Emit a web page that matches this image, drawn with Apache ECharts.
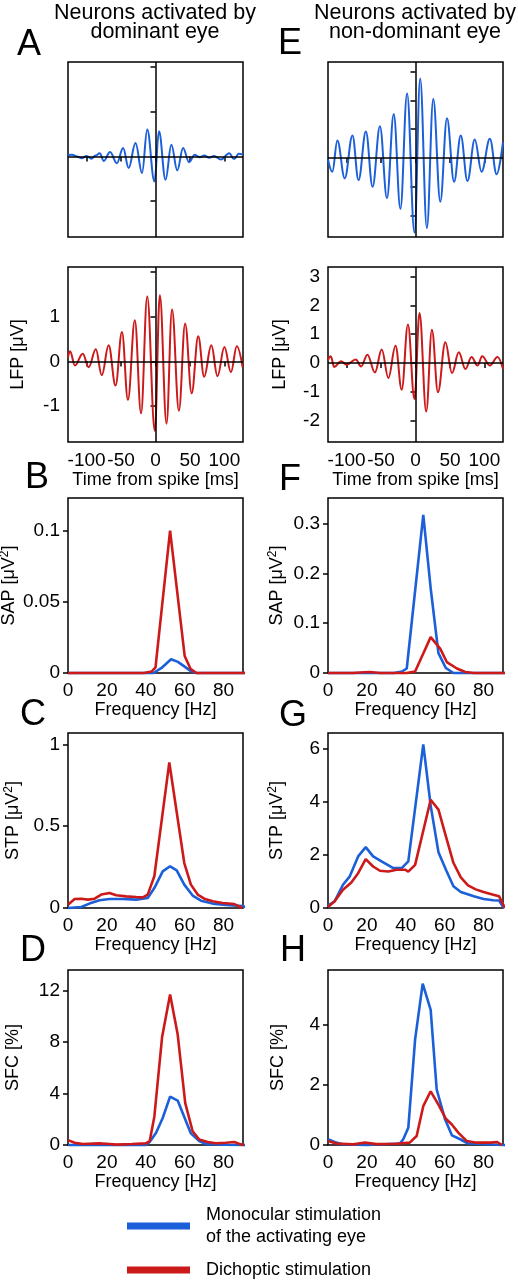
<!DOCTYPE html>
<html><head><meta charset="utf-8">
<script src="https://cdn.jsdelivr.net/npm/echarts@6/dist/echarts.min.js"></script>
<style>html,body{margin:0;padding:0;background:#fff}#c{width:518px;height:1280px}</style>
</head><body><div id="c"></div>
<script>
// ---- tick values ----
const timeTicks = [-100, -50, 0, 50, 100];
const freqTicks = [0, 20, 40, 60, 80];
const lfpDomTicks = [-1, 0, 1, 2];
const lfpDomLabels = [-1, 0, 1];
const lfpNonTicks = [-2, -1, 0, 1, 2, 3];
const sapDomTicks = [0, 0.05, 0.1];
const sapNonTicks = [0, 0.1, 0.2, 0.3];
const stpDomTicks = [0, 0.5, 1];
const stpNonTicks = [0, 2, 4, 6];
const sfcDomTicks = [0, 4, 8, 12];
const sfcNonTicks = [0, 2, 4];

// ---- spike-triggered LFP averages [time ms, µV] (extrema) ----
const domMonoSTA = [[-127,0.03],[-121,0.04],[-114,0.0],[-107,-0.04],[-100,0.01],[-93,-0.05],[-87,0.02],[-81,0.07],[-75,-0.1],[-66,0.1],[-56,-0.15],[-47,0.19],[-39,-0.26],[-29,0.3],[-19.5,-0.37],[-12,0.6],[-1.5,-0.56],[5,0.56],[14.6,-0.52],[23,0.26],[31.6,-0.31],[40,0.19],[48.7,-0.13],[57,0.04],[64,-0.02],[71,0.02],[78,-0.03],[85,0.01],[95,-0.07],[107,0.07],[114,-0.06],[121,0.06],[127,0.04]];
const domDichSTA = [[-127,0.1],[-124,0.23],[-117,-0.09],[-105.6,0.17],[-97,-0.13],[-86.6,0.27],[-78,-0.31],[-68,0.36],[-58,-0.54],[-48.7,0.66],[-40,-0.86],[-30,0.92],[-21,-1.16],[-12,1.45],[-1,-1.55],[6.3,1.48],[16,-1.39],[24,1.16],[34,-1.1],[43,0.85],[52.5,-0.71],[62,0.56],[70.6,-0.34],[81,0.36],[90,-0.33],[100,0.32],[109.5,-0.24],[118,0.34],[126.5,-0.13]];
const nonMonoSTA = [[-127,-0.05],[-120.7,-0.48],[-113.4,0.61],[-102.7,-0.71],[-91.5,0.78],[-82.7,-0.77],[-72,0.92],[-62.3,-1.0],[-51.6,1.1],[-41.4,-1.4],[-31.6,1.53],[-21.9,-1.77],[-12.2,2.24],[-1.5,-2.6],[6.8,2.77],[16.5,-2.44],[25.8,2.05],[36,-1.52],[45.7,1.38],[56,-0.83],[65.7,0.78],[75.4,-0.8],[86,0.64],[95.9,-0.48],[108,0.67],[117.8,-0.57],[127,0.55]];
const nonDichSTA = [[-127,0.1],[-123,0.23],[-118,-0.14],[-108,0.06],[-100,-0.06],[-86.6,0.12],[-79,-0.12],[-69.8,0.29],[-58.9,-0.33],[-49,0.47],[-39.4,-0.52],[-29,0.6],[-20,-0.93],[-11,1.34],[-1.5,-1.26],[5.8,1.74],[15.6,-1.69],[23.8,1.16],[32.6,-1.02],[43.3,0.72],[53,-0.35],[62.8,0.37],[72.5,-0.21],[81.3,0.21],[90,-0.09],[96.8,0.23],[108,-0.09],[119,0.21],[127,-0.21]];

// ---- spectra [frequency Hz, value] ----
const domMonoSAP = [[0,0],[44,0],[48.5,0.004],[53,0.0097],[56.5,0.0078],[60,0.0045],[63,0.0015],[66,0],[93,0]];
const domDichSAP = [[0,0],[39,0],[43,0.001],[45,0.004],[52.5,0.1],[60,0.012],[63,0.003],[66,0],[93,0]];
const nonMonoSAP = [[0,0],[34,0],[38,0.003],[40.5,0.009],[49,0.317],[52.8,0.17],[56.8,0.04],[60.6,0.01],[64.5,0],[93,0]];
const nonDichSAP = [[0,0],[13,0],[16.4,0.001],[21.5,0.002],[26.7,0],[40.4,0],[44.8,0.003],[49,0.039],[52.8,0.072],[57.7,0.049],[61.1,0.022],[66.3,0.009],[70.6,0.002],[75,0],[93,0]];

const domMonoSTP = [[0,0],[6.8,0.006],[11,0.027],[16.2,0.047],[21.4,0.055],[28.2,0.055],[35,0.051],[41,0.061],[44.4,0.122],[48.7,0.224],[52.5,0.255],[55.9,0.23],[59.8,0.143],[64.1,0.076],[68.4,0.045],[74.4,0.027],[81.2,0.018],[87.2,0.014],[90,0.012],[92.5,0]];
const domDichSTP = [[0,0.02],[3.4,0.055],[6.8,0.057],[10.3,0.051],[13.7,0.057],[17.1,0.082],[21.4,0.092],[24.8,0.078],[29.9,0.071],[35,0.067],[38.5,0.065],[41,0.082],[44.4,0.194],[52.1,0.89],[59.8,0.275],[63.2,0.143],[66.7,0.082],[70.1,0.057],[74.4,0.041],[79.5,0.031],[85.5,0.024],[88,0.01],[89.7,0]];
const nonMonoSTP = [[0,0.09],[3.4,0.25],[7.7,0.875],[11.2,1.19],[15.5,1.94],[19.4,2.29],[23.2,1.94],[28.4,1.72],[33.6,1.5],[37.9,1.5],[41.3,1.75],[49,6.15],[52.8,3.85],[56.8,2.1],[60.6,1.45],[64.5,0.82],[68.3,0.6],[75,0.44],[80,0.34],[85,0.29],[88,0.28],[90.4,0]];
const nonDichSTP = [[0,0.04],[3.4,0.25],[7.7,0.69],[12,0.96],[15.5,1.31],[19.4,1.84],[23.2,1.56],[26.7,1.4],[31,1.37],[35.3,1.44],[39.6,1.44],[41.3,1.37],[44.8,1.62],[52.8,4.07],[56.8,3.7],[60.6,2.7],[64.5,1.7],[68.3,1.15],[72,0.85],[76,0.7],[80,0.6],[85,0.5],[88,0.44],[91,0]];

const domMonoSFC = [[0,0],[40,0],[42,0.23],[45.3,0.95],[48.7,2.1],[52.5,3.76],[56.4,3.45],[59.8,2.17],[63.2,0.9],[67.5,0.3],[71,0.08],[80,0.02],[91.5,0],[95,-0.05]];
const domDichSFC = [[0,0.38],[3.4,0.18],[7.7,0.08],[16,0.13],[19.7,0.1],[25,0.03],[33,0.08],[40,0.13],[42,0.3],[44.4,2.2],[48.4,8.4],[52.5,11.7],[56.4,8.6],[60.3,3.25],[64.1,1.07],[67.5,0.43],[71.8,0.23],[76,0.13],[81.2,0.18],[85.5,0.23],[88.9,0.05],[90.5,0]];
const nonMonoSFC = [[0,0.19],[4.3,0.08],[7.7,0.02],[20,0],[37,0.05],[38.7,0.19],[41.3,0.57],[44.8,3.5],[48.7,5.35],[52.8,4.48],[55.9,1.84],[60.2,0.85],[63.7,0.32],[68,0.19],[72,0.05],[90.4,0],[94,-0.03]];
const nonDichSFC = [[0,0.13],[4.3,0.05],[13,0.02],[19,0.08],[25,0.03],[35,0.04],[42,0.08],[45.6,0.3],[49,1.29],[52.8,1.78],[56.8,1.34],[60.6,0.87],[63.7,0.68],[67,0.41],[71.4,0.13],[75.7,0.08],[83.5,0.08],[87,0.1],[89.5,0]];

// ---- chart ----
const FONT = '"Liberation Sans", Arial, Helvetica, sans-serif';
const BLUE = '#1b5fd9', RED = '#cc1a1a';
const MONO = 'Monocular stimulation of the activating eye', DICH = 'Dichoptic stimulation';
const grids = [], xAxes = [], yAxes = [], series = [];

function addPanel(p) {
  const gi = grids.length;
  const isTime = p.kind === 'time';
  grids.push({ left: p.left, top: p.top, width: 175, height: 175, show: true,
    borderColor: '#000', borderWidth: 1.5, backgroundColor: 'transparent', outerBoundsMode: 'none', containLabel: false });
  const xt = isTime ? timeTicks : freqTicks;
  xAxes.push({ gridIndex: gi, type: 'value', min: isTime ? -127 : 0, max: isTime ? 127 : 90,
    axisLine: { show: false }, splitLine: { show: false },
    axisTick: { show: isTime, inside: false, length: 5, lineStyle: { color: '#000', width: 1.5 }, customValues: xt },
    axisLabel: { show: !!p.xLabel, customValues: xt, margin: isTime ? 9 : 8, color: '#000', fontSize: 19, fontFamily: FONT },
    name: p.xLabel ? (isTime ? 'Time from spike [ms]' : 'Frequency [Hz]') : '',
    nameLocation: 'middle', nameGap: isTime ? 28 : 27,
    nameTextStyle: { color: '#000', fontSize: 18, fontFamily: FONT } });
  yAxes.push({ gridIndex: gi, type: 'value', min: p.yMin, max: p.yMax,
    axisLine: { show: false }, splitLine: { show: false },
    axisTick: { show: true, inside: false, length: 5, lineStyle: { color: '#000', width: 1.5 }, customValues: p.yTicks },
    axisLabel: { show: !!p.yLabels, customValues: p.yLabels || p.yTicks, margin: 8, color: '#000', fontSize: 19, fontFamily: FONT },
    name: p.yName || '', nameLocation: 'middle', nameRotate: 90, nameGap: p.nameGap || 40,
    nameTextStyle: { color: '#000', fontSize: 18, fontFamily: FONT, lineHeight: 20,
      rich: { s: { fontSize: 12, fontFamily: FONT, color: '#000', verticalAlign: 'top', lineHeight: 20 } } } });
  p.series.forEach((s, k) => {
    const o = { type: 'line', name: s.name, xAxisIndex: gi, yAxisIndex: gi, data: s.data,
      showSymbol: false, symbol: 'none', smooth: isTime ? 0.38 : false, smoothMonotone: isTime ? 'x' : undefined, clip: isTime,
      color: s.color, itemStyle: { color: s.color },
      lineStyle: { color: s.color, width: isTime ? 2 : 2.6 }, silent: true, z: 3 + k };
    if (isTime && k === 0) {
      o.markLine = { silent: true, symbol: 'none', animation: false, label: { show: false },
        lineStyle: { color: '#000', width: 1.5, type: 'solid' }, data: [{ xAxis: 0 }, { yAxis: 0 }] };
    }
    series.push(o);
  });
}

const L = 68, R = 328;
addPanel({ kind: 'time', left: L, top: 62, yMin: -1.8, yMax: 2.11, yTicks: lfpDomTicks, series: [{ name: MONO, data: domMonoSTA, color: BLUE }] });
addPanel({ kind: 'time', left: L, top: 267, xLabel: true, yMin: -1.8, yMax: 2.11, yTicks: lfpDomTicks, yLabels: lfpDomLabels, yName: 'LFP [μV]', nameGap: 40, series: [{ name: DICH, data: domDichSTA, color: RED }] });
addPanel({ kind: 'freq', left: L, top: 498, xLabel: true, yMin: 0, yMax: 0.123, yTicks: sapDomTicks, yLabels: sapDomTicks, yName: 'SAP [μV{s|2}]', nameGap: 45, series: [{ name: MONO, data: domMonoSAP, color: BLUE }, { name: DICH, data: domDichSAP, color: RED }] });
addPanel({ kind: 'freq', left: L, top: 733, xLabel: true, yMin: 0, yMax: 1.07, yTicks: stpDomTicks, yLabels: stpDomTicks, yName: 'STP [μV{s|2}]', nameGap: 45, series: [{ name: MONO, data: domMonoSTP, color: BLUE }, { name: DICH, data: domDichSTP, color: RED }] });
addPanel({ kind: 'freq', left: L, top: 970, xLabel: true, yMin: 0, yMax: 13.6, yTicks: sfcDomTicks, yLabels: sfcDomTicks, yName: 'SFC [%]', nameGap: 45, series: [{ name: MONO, data: domMonoSFC, color: BLUE }, { name: DICH, data: domDichSFC, color: RED }] });

addPanel({ kind: 'time', left: R, top: 62, yMin: -2.75, yMax: 3.34, yTicks: lfpNonTicks, series: [{ name: MONO, data: nonMonoSTA, color: BLUE }] });
addPanel({ kind: 'time', left: R, top: 267, xLabel: true, yMin: -2.75, yMax: 3.34, yTicks: lfpNonTicks, yLabels: lfpNonTicks, yName: 'LFP [μV]', nameGap: 38, series: [{ name: DICH, data: nonDichSTA, color: RED }] });
addPanel({ kind: 'freq', left: R, top: 498, xLabel: true, yMin: 0, yMax: 0.351, yTicks: sapNonTicks, yLabels: sapNonTicks, yName: 'SAP [μV{s|2}]', nameGap: 41, series: [{ name: MONO, data: nonMonoSAP, color: BLUE }, { name: DICH, data: nonDichSAP, color: RED }] });
addPanel({ kind: 'freq', left: R, top: 733, xLabel: true, yMin: 0, yMax: 6.58, yTicks: stpNonTicks, yLabels: stpNonTicks, yName: 'STP [μV{s|2}]', nameGap: 41, series: [{ name: MONO, data: nonMonoSTP, color: BLUE }, { name: DICH, data: nonDichSTP, color: RED }] });
addPanel({ kind: 'freq', left: R, top: 970, xLabel: true, yMin: 0, yMax: 5.8, yTicks: sfcNonTicks, yLabels: sfcNonTicks, yName: 'SFC [%]', nameGap: 40, series: [{ name: MONO, data: nonMonoSFC, color: BLUE }, { name: DICH, data: nonDichSFC, color: RED }] });

function txt(t, x, y, size) {
  return { type: 'text', x: x, y: y, silent: true,
    style: { text: t, fontSize: size, fontFamily: FONT, fill: '#000', align: 'center', verticalAlign: 'middle' } };
}
const graphic = [
  txt('Neurons activated by', 155, 13, 21.5), txt('dominant eye', 155, 32, 21.5),
  txt('Neurons activated by', 415, 13, 21.5), txt('non-dominant eye', 415, 32, 21.5),
  txt('A', 29, 45, 36), txt('B', 37, 478, 36), txt('C', 33, 715, 36), txt('D', 33, 951, 36),
  txt('E', 290, 44, 36), txt('F', 290, 480, 36), txt('G', 293, 716, 36), txt('H', 293, 951, 36)
];

const chart = echarts.init(document.getElementById('c'), null, { renderer: 'canvas' });
chart.setOption({
  animation: false,
  backgroundColor: '#fff',
  textStyle: { fontFamily: FONT, color: '#000' },
  grid: grids, xAxis: xAxes, yAxis: yAxes, series: series, graphic: graphic,
  legend: { show: true, orient: 'vertical', left: 127, top: 1204, padding: 0, itemGap: 11,
    itemWidth: 63, itemHeight: 7, icon: 'rect', selectedMode: false,
    data: [{ name: MONO, itemStyle: { color: BLUE } }, { name: DICH, itemStyle: { color: RED } }],
    formatter: n => n === MONO ? 'Monocular stimulation\nof the activating eye' : n,
    textStyle: { fontSize: 18, fontFamily: FONT, color: '#000', lineHeight: 22, padding: [0, 0, 0, 11] } }
});
</script></body></html>
